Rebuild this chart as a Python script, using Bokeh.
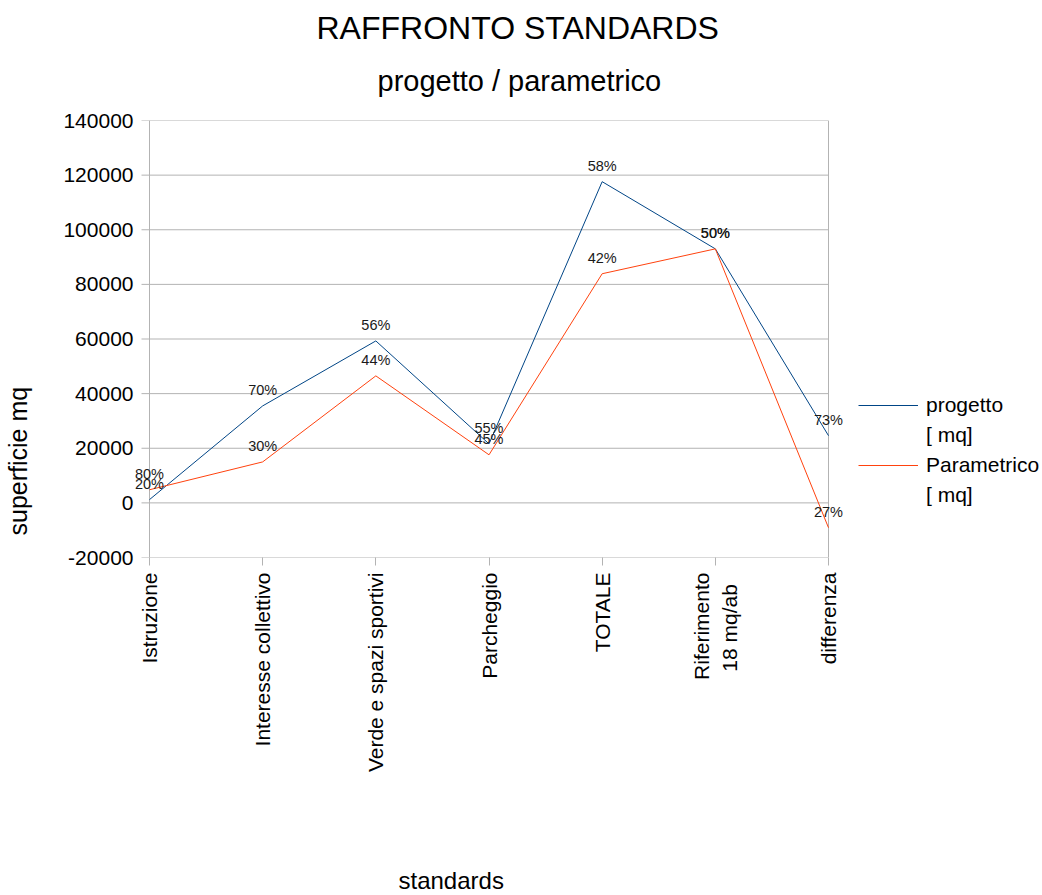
import math
from bokeh.plotting import figure
from bokeh.models import (Range1d, FixedTicker, Legend, LegendItem, Title,
                          ColumnDataSource, Label)
from bokeh.embed import file_html
from bokeh.resources import INLINE

categories = ["Istruzione", "Interesse collettivo", "Verde e spazi sportivi",
              "Parcheggio", "TOTALE", "Riferimento\n 18  mq/ab", "differenza"]
progetto = [1200, 35500, 59300, 21600, 117600, 93000, 24600]
parametrico = [4800, 15000, 46500, 17600, 83900, 93000, -9100]
pct_progetto = ["20%", "70%", "56%", "55%", "58%", "50%", "73%"]
pct_parametrico = ["80%", "30%", "44%", "45%", "42%", "50%", "27%"]
y_ticks = [-20000, 0, 20000, 40000, 60000, 80000, 100000, 120000, 140000]

FONT = "Liberation Sans"
GRID = "#b3b3b3"
BLUE = "#004586"
ORANGE = "#ff420e"

xs = list(range(len(categories)))
src = ColumnDataSource(dict(x=xs, p=progetto, q=parametrico))

# plotting area of 679 px between first and last category; the frame is
# widened by a small margin so that edge labels are not clipped
AREA_W = 679
MARGIN = 16
TICK = 8
span = len(categories) - 1
px_per_unit = AREA_W / span
pad = MARGIN / px_per_unit
tick_d = TICK / px_per_unit

p = figure(frame_width=AREA_W + 2 * MARGIN, frame_height=437,
           min_border_left=149 - MARGIN, min_border_top=120,
           min_border_right=214 - MARGIN, min_border_bottom=337,
           x_range=Range1d(-pad, span + pad),
           y_range=Range1d(y_ticks[0], y_ticks[-1]),
           output_backend="svg", toolbar_location=None,
           background_fill_color="white", border_fill_color="white")

p.outline_line_color = None
p.xgrid.visible = False
p.ygrid.visible = False

# horizontal grid lines (with their tick stubs), y axis line, right border
p.segment(x0=xs[0] - tick_d, x1=xs[-1], y0=y_ticks, y1=y_ticks,
          line_color=GRID, line_width=1)
p.segment(x0=[xs[0], xs[-1]], x1=[xs[0], xs[-1]],
          y0=y_ticks[0], y1=y_ticks[-1], line_color=GRID, line_width=1)

p.yaxis.ticker = FixedTicker(ticks=y_ticks)
p.yaxis.major_label_overrides = {t: str(t) for t in y_ticks}
p.yaxis.minor_tick_line_color = None
p.yaxis.major_tick_line_color = None
p.yaxis.major_tick_in = 0
p.yaxis.major_tick_out = 0
p.yaxis.axis_line_color = None
p.yaxis.major_label_text_font = FONT
p.yaxis.major_label_text_font_size = "21px"
p.yaxis.major_label_text_color = "black"
p.yaxis.major_label_standoff = 0

p.xaxis.ticker = FixedTicker(ticks=xs)
p.xaxis.major_label_overrides = {i: c for i, c in enumerate(categories)}
p.xaxis.major_label_orientation = math.pi / 2
p.xaxis.minor_tick_line_color = None
p.xaxis.major_tick_in = 0
p.xaxis.major_tick_out = TICK
p.xaxis.axis_line_color = None
p.xaxis.major_tick_line_color = GRID
p.xaxis.major_label_text_font = FONT
p.xaxis.major_label_text_font_size = "21px"
p.xaxis.major_label_text_color = "black"
p.xaxis.major_label_standoff = 7

r1 = p.line("x", "p", source=src, line_color=BLUE, line_width=1)
r2 = p.line("x", "q", source=src, line_color=ORANGE, line_width=1)
ghost = p.line("x", "p", source=src, line_alpha=0)

for ys, labs in ((progetto, pct_progetto), (parametrico, pct_parametrico)):
    for xv, yv, t in zip(xs, ys, labs):
        p.add_layout(Label(x=xv, y=yv, text=t, text_font=FONT,
                           text_font_size="14.5px", text_align="center",
                           text_baseline="middle", y_offset=16,
                           text_color="#1a1a1a"))

legend = Legend(items=[LegendItem(label="progetto", renderers=[r1]),
                       LegendItem(label="[ mq]", renderers=[ghost]),
                       LegendItem(label="Parametrico", renderers=[r2]),
                       LegendItem(label="[ mq]", renderers=[ghost])],
                location=(30 - MARGIN, 47), glyph_width=60, glyph_height=30,
                label_height=30, label_standoff=8, label_text_font=FONT,
                label_text_font_size="21px", label_text_color="black",
                border_line_color=None, background_fill_alpha=0,
                spacing=0, padding=0, margin=0)
p.add_layout(legend, "right")

p.add_layout(Title(text="progetto / parametrico", text_font=FONT,
                   text_font_size="29px", text_font_style="normal",
                   text_color="black", align="left", offset=244,
                   standoff=48), "above")
p.add_layout(Title(text="RAFFRONTO STANDARDS", text_font=FONT,
                   text_font_size="32px", text_font_style="normal",
                   text_color="black", align="left", offset=183,
                   standoff=-15), "above")

p.add_layout(Title(text="superficie mq\n ", text_font=FONT,
                   text_font_size="25px", text_font_style="normal",
                   text_color="black", align="left", offset=22,
                   vertical_align="middle", standoff=0), "left")

p.add_layout(Title(text=" ", text_font=FONT, text_font_size="25px",
                   standoff=59), "below")
p.add_layout(Title(text="standards", text_font=FONT,
                   text_font_size="24px", text_font_style="normal",
                   text_color="black", align="left", offset=265,
                   standoff=0), "below")

open("out.html", "w").write(file_html(p, INLINE))
